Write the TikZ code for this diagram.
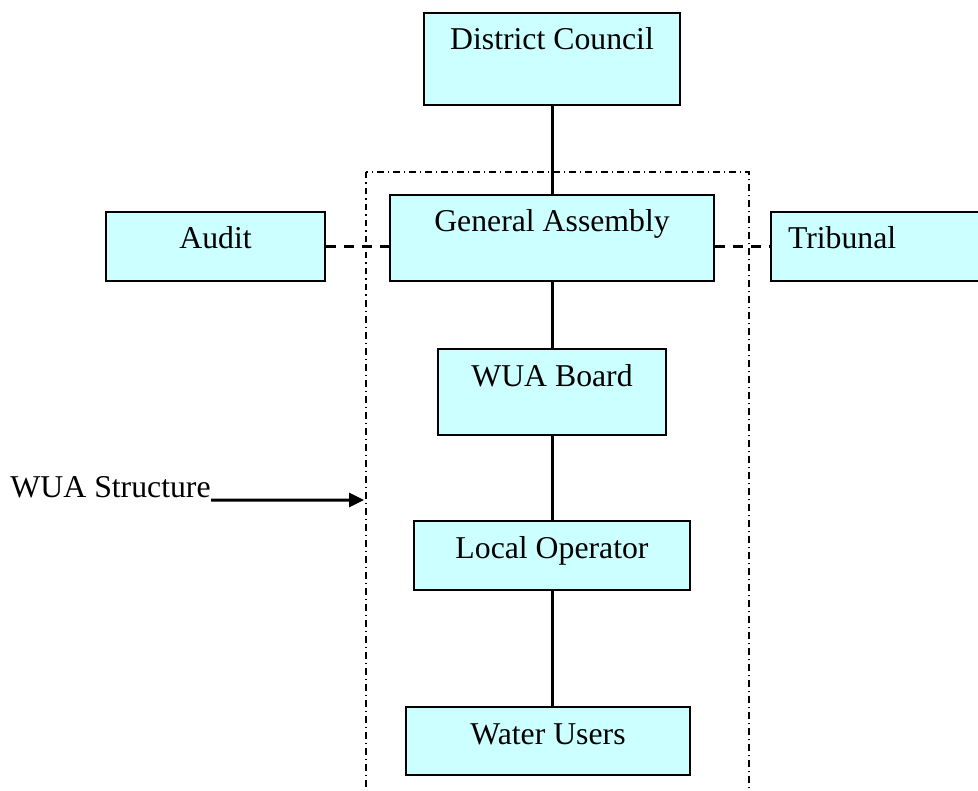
\documentclass[tikz,border=0pt]{standalone}
\usepackage{fontspec}
\setmainfont{Liberation Serif}
\usetikzlibrary{positioning,arrows.meta}
\definecolor{boxcyan}{RGB}{204,255,255}

\begin{document}
\begin{tikzpicture}[x=0.4pt,y=-0.4pt,font=\fontsize{12.7}{15}\selectfont,
  orgbox/.style={draw,fill=boxcyan,line width=0.8pt,anchor=north,inner xsep=0pt,inner ysep=6pt,text height=8.8pt},
  link/.style={line width=1.2pt},
  sidelink/.style={line width=1.2pt,dash pattern=on 4pt off 3.2pt}]

\clip (0,0) rectangle (978,791);

% WUA frame
\draw [line width=0.6pt,dash pattern=on 2.6pt off 1.6pt on 0.6pt off 1.6pt] (366,172) rectangle (749,830);

\node [orgbox, minimum width=102.4pt, text depth=16pt] (dc) at (552,12) {District Council};
\node [orgbox, minimum width=129.6pt, text depth=13.6pt] (ga) at (552,194) {General Assembly};
\node [orgbox, minimum width=87.6pt, text depth=6.8pt] (audit) at (215.5,211) {Audit};
\node [orgbox, anchor=north west, inner xsep=6.8pt, text width=110pt, align=left, text depth=6.8pt] (tribunal) at (770,211) {Tribunal};
\node [orgbox, minimum width=91.2pt, text depth=13.6pt] (board) at (552,348) {WUA Board};
\node [orgbox, minimum width=110.4pt, text depth=6.8pt] (operator) at (552,520) {Local Operator};
\node [orgbox, minimum width=113.6pt, text depth=6.4pt] (users) at (548,706) {Water Users};

\draw [link] (dc) -- (ga);
\draw [link] (ga) -- (board);
\draw [link] (board) -- (operator);
\draw [link] (operator.south) -- (operator.south |- users.north);

\draw [sidelink] (audit.east) -- (audit.east -| ga.west);
\draw [sidelink] (ga.east |- tribunal.west) -- (tribunal.west);

% pointer to the frame
\node [anchor=base west, inner sep=0pt] (wuas) at (10,497) {WUA Structure};
\coordinate (frameleft) at (364,500);
\draw [link, -{Triangle[length=6pt,width=5.6pt]}] ([yshift=-1.2pt]wuas.base east) -- (frameleft);

\end{tikzpicture}
\end{document}
